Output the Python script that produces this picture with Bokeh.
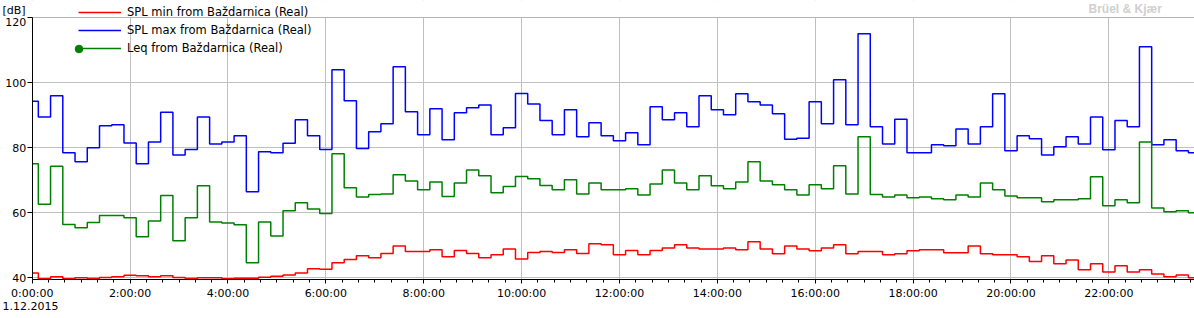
import numpy as np
from bokeh.plotting import figure
from bokeh.models import (Range1d, FixedTicker, Legend, LegendItem, Label, LinearAxis,
                          BoxAnnotation)
from bokeh.embed import file_html
from bokeh.resources import INLINE

FONT = "DejaVu Sans"

# 15-minute intervals, values (dB)
spl_max = [94.3, 89.5, 96.0, 78.5, 75.7, 80.0, 86.8, 87.1, 81.5, 75.1, 81.8, 90.9,
           77.8, 79.5, 89.5, 81.2, 81.8, 83.7, 66.5, 78.8, 78.5, 81.4, 88.6, 83.7,
           79.5, 104.0, 94.5, 79.8, 84.9, 87.4, 104.9, 91.1, 84.0, 92.0, 82.5, 90.8,
           92.3, 93.2, 84.0, 86.2, 96.7, 93.5, 88.4, 84.0, 91.7, 83.4, 87.7, 83.7,
           82.2, 84.6, 80.9, 92.6, 88.6, 90.8, 86.5, 96.0, 91.7, 90.2, 96.6, 94.2,
           93.2, 90.5, 82.6, 82.9, 94.2, 87.4, 100.9, 87.1, 115.1, 86.5, 81.2, 88.8,
           78.5, 78.5, 80.9, 80.6, 85.8, 81.2, 86.5, 96.6, 79.1, 83.7, 82.8, 77.8,
           80.3, 83.4, 81.2, 89.5, 79.4, 88.4, 86.5, 111.1, 80.9, 82.5, 79.1, 78.5]

leq = [75.1, 62.6, 74.3, 56.4, 55.4, 57.0, 59.2, 59.2, 58.5, 52.6, 57.5, 65.3,
       51.4, 58.5, 68.3, 57.2, 56.9, 56.3, 44.6, 57.2, 52.9, 60.6, 63.1, 61.2,
       59.8, 78.2, 67.7, 64.9, 65.6, 65.8, 71.7, 69.8, 67.1, 69.5, 65.0, 69.2,
       73.2, 71.4, 66.2, 68.1, 71.2, 70.5, 68.4, 67.1, 70.2, 65.8, 69.2, 67.1,
       67.1, 67.4, 65.5, 68.9, 73.2, 69.2, 67.1, 71.4, 68.3, 67.4, 69.5, 75.7,
       69.8, 68.6, 67.1, 65.5, 68.6, 67.4, 74.5, 65.8, 83.4, 65.6, 64.9, 65.5,
       64.6, 64.9, 64.3, 64.0, 65.5, 64.9, 69.2, 67.1, 65.2, 64.6, 64.6, 63.4,
       64.0, 64.0, 64.3, 71.1, 62.2, 64.0, 63.1, 81.8, 61.5, 60.3, 60.6, 60.0]

spl_min = [41.5, 39.7, 40.3, 39.7, 40.0, 39.8, 40.1, 40.3, 40.8, 40.6, 40.3, 40.6,
           40.1, 39.8, 40.0, 40.0, 39.7, 39.9, 39.9, 40.2, 40.5, 40.9, 41.5, 42.8,
           42.6, 44.6, 45.6, 46.8, 46.2, 47.5, 49.8, 48.1, 48.1, 48.6, 46.5, 48.4,
           47.5, 46.2, 47.1, 48.9, 45.8, 47.8, 48.1, 47.8, 48.6, 47.5, 50.5, 50.2,
           47.1, 48.4, 47.1, 48.4, 49.2, 50.2, 49.2, 48.9, 48.9, 49.2, 48.6, 51.1,
           48.9, 47.4, 49.8, 48.9, 48.3, 49.2, 50.2, 47.4, 48.1, 48.1, 47.1, 47.4,
           48.3, 48.6, 48.6, 47.7, 47.7, 49.8, 47.4, 47.1, 47.1, 46.5, 45.0, 46.8,
           44.3, 45.5, 42.5, 44.3, 41.8, 43.7, 41.8, 42.5, 41.2, 40.3, 40.9, 40.0]

series_labels = ["SPL min from Baždarnica (Real)",
                 "SPL max from Baždarnica (Real)",
                 "Leq from Baždarnica (Real)"]
tick_hours = [0, 2, 4, 6, 8, 10, 12, 14, 16, 18, 20, 22]
tick_labels = ["0:00:00", "2:00:00", "4:00:00", "6:00:00", "8:00:00", "10:00:00",
               "12:00:00", "14:00:00", "16:00:00", "18:00:00", "20:00:00", "22:00:00"]
y_ticks = [40, 60, 80, 100]
y_top_label = "120"
date_label = "1.12.2015"
unit_label = "[dB]"
brand_label = "Brüel & Kjær"

hours = np.arange(len(spl_max)) * 0.25

W, H = 1194, 318
Y_MIN, Y_MAX = 39.6, 120.0
X_END = 23.75

p = figure(width=W, height=H, output_backend="svg", toolbar_location=None,
           x_range=Range1d(-0.648, X_END), y_range=Range1d(27.48, 125.32),
           min_border=0, min_border_left=0, min_border_right=0,
           min_border_top=0, min_border_bottom=0)
p.background_fill_color = "white"
p.border_fill_color = "white"
p.outline_line_color = None

p.xgrid.grid_line_color = "#c0c0c0"
p.ygrid.grid_line_color = "#c0c0c0"

# white masks outside the plotting region (hide grid lines there)
for kw in (dict(bottom=Y_MAX), dict(top=Y_MIN), dict(right=0)):
    p.add_layout(BoxAnnotation(fill_color="white", fill_alpha=1.0, line_alpha=0.0,
                               level="underlay", **kw))

r_min = p.step(hours, spl_min, mode="center", line_color="#ff0000", line_width=1.5)
r_max = p.step(hours, spl_max, mode="center", line_color="#0000ff", line_width=1.5)
r_leq = p.step(hours, leq, mode="center", line_color="#008000", line_width=1.5)
r_mk = p.scatter(x=[np.nan], y=[np.nan], marker="circle", size=8,
                 fill_color="#008000", line_color="#008000")

# axes placed inside the frame
xa, ya = p.xaxis[0], p.yaxis[0]
xa.fixed_location = Y_MIN
xa.bounds = (0, X_END)
ya.fixed_location = 0
ya.bounds = (Y_MIN, Y_MAX)
xa.ticker = FixedTicker(ticks=tick_hours, minor_ticks=list(np.arange(0, 24, 1 / 3)))
xa.major_label_overrides = {h: l for h, l in zip(tick_hours, tick_labels)}
ya.ticker = FixedTicker(ticks=y_ticks, minor_ticks=[120])
for ax in (xa, ya):
    ax.axis_line_color = "black"
    ax.major_tick_line_color = "black"
    ax.minor_tick_line_color = "black"
    ax.major_tick_in = 0
    ax.minor_tick_in = 0
    ax.major_label_text_font = FONT
    ax.major_label_text_font_size = "11px"
    ax.major_label_text_color = "black"
xa.major_tick_out = 4
xa.minor_tick_out = 3
xa.major_label_standoff = 4
ya.major_tick_out = 5
ya.minor_tick_out = 5
ya.major_label_standoff = 1

top_axis = LinearAxis(fixed_location=Y_MAX, bounds=(0, X_END), ticker=FixedTicker(ticks=[]),
                      axis_line_color="#b4b4b4", major_tick_line_color=None,
                      minor_tick_line_color=None)
p.add_layout(top_axis, "above")

# legends
leg = Legend(items=[LegendItem(label=series_labels[0], renderers=[r_min]),
                    LegendItem(label=series_labels[1], renderers=[r_max]),
                    LegendItem(label=series_labels[2], renderers=[r_leq])],
             location=(78, 261), orientation="vertical", glyph_width=43, glyph_height=18,
             label_height=18, label_standoff=6, padding=0, spacing=0, margin=0,
             border_line_color=None, background_fill_alpha=0,
             label_text_font=FONT, label_text_font_size="11.5px", label_text_color="black")
p.add_layout(leg)
# marker at the left end of the Leq legend line
leg2 = Legend(items=[LegendItem(label=" ", renderers=[r_mk])],
              location=(69, 260), orientation="vertical", glyph_width=19, glyph_height=19,
              label_height=19, label_width=1, label_standoff=0, padding=0, spacing=0, margin=0,
              border_line_color=None, background_fill_alpha=0,
              label_text_font=FONT, label_text_font_size="11px")
p.add_layout(leg2)

p.add_layout(Label(x=2, y=H - 10, x_units="screen", y_units="screen", text=unit_label,
                   text_font=FONT, text_font_size="11px", text_baseline="middle", text_color="black"))
p.add_layout(Label(x=0, y=118.6, x_offset=-6, text=y_top_label,
                   text_font=FONT, text_font_size="11px", text_baseline="middle",
                   text_align="right", text_color="black"))
p.add_layout(Label(x=2, y=H - 305, x_units="screen", y_units="screen", text=date_label,
                   text_font=FONT, text_font_size="11px", text_baseline="middle", text_color="black"))
p.add_layout(Label(x=1088, y=H - 8, x_units="screen", y_units="screen", text=brand_label,
                   text_font="Liberation Sans", text_font_style="bold", text_font_size="12px",
                   text_baseline="middle", text_color="#cfcfcf"))

open("out.html", "w").write(file_html(p, INLINE))
